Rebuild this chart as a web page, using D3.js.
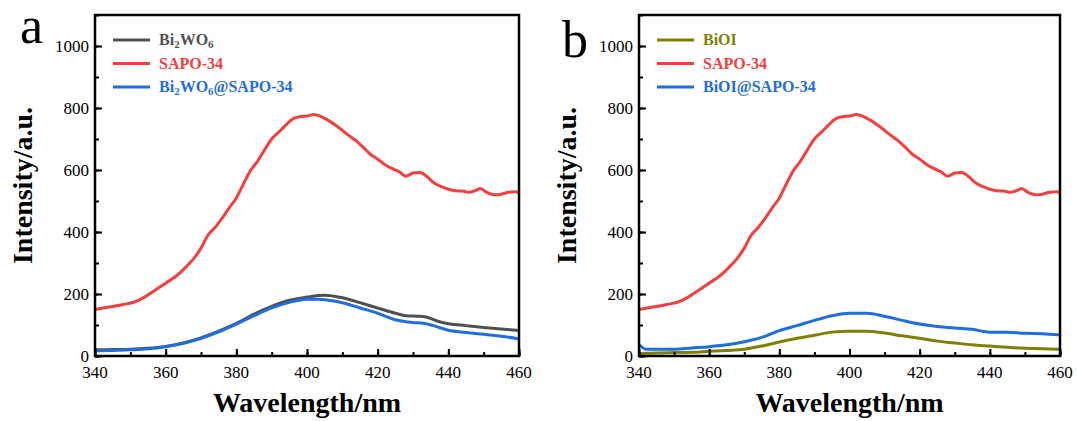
<!DOCTYPE html>
<html>
<head>
<meta charset="utf-8">
<script src="https://cdn.jsdelivr.net/npm/d3@7"></script>
<style>
  body { margin: 0; background: #fff; }
</style>
</head>
<body>
<div id="chart"></div>
<script>
// wavelength (nm) / intensity pairs
var sapoWl  = [340,344,348,352,354,357,360,363,366,368,370,372,374,376,378,380,382,384,386,388,390,392,394,396,398,400,402,404,406,408,410,412,414,416,418,420,422,424,426,428,430,432,434,436,438,440,442,444,446,448,449,451,453,455,457,459,460];
var sapoVal = [150,158,166,178,190,212,235,258,290,315,348,390,415,445,478,510,555,598,628,665,700,722,745,765,772,774,779,772,760,745,728,710,693,672,650,635,618,605,595,580,590,592,578,558,546,538,533,532,528,535,540,527,520,522,528,530,526];

var bwoWl  = [340,345,350,355,360,365,370,375,380,385,390,395,400,405,410,415,420,425,428,432,434,437,440,445,450,455,460];
var bwoVal = [20,21,22,25,31,42,58,80,105,135,160,180,190,196,188,172,155,138,130,128,125,112,104,98,92,87,82];

var bwoSapoWl  = [340,345,350,355,360,365,370,375,380,385,390,395,400,403,406,410,415,420,425,430,433,436,440,445,450,455,460];
var bwoSapoVal = [17,18,20,23,30,41,57,78,103,130,155,173,183,183,180,172,155,138,117,108,106,97,83,76,70,64,55];

var bioiWl  = [340,345,350,355,360,365,370,375,380,385,390,395,400,405,410,415,420,425,430,435,440,445,450,455,460];
var bioiVal = [8,10,11,12,15,18,22,32,45,57,67,77,80,80,74,65,57,48,42,36,32,28,25,23,22];

var bioiSapoWl  = [340,342,345,350,355,360,365,370,375,380,385,390,395,400,405,410,415,420,425,430,435,440,445,450,455,460];
var bioiSapoVal = [37,22,22,22,26,30,36,46,60,82,98,115,130,138,138,128,115,103,95,90,86,77,77,73,72,68];

var xTicks = [340,360,380,400,420,440,460];
var yTicks = [0,200,400,600,800,1000];

var panels = [
  { letter: "a", left: 95, right: 519, letterX: 20, letterY: 43,
    series: [
      { name: "Bi2WO6", label: ["Bi", "2", "WO", "6"], color: "#505050", wl: bwoWl, val: bwoVal },
      { name: "SAPO-34", label: ["SAPO-34"], color: "#f2403f", wl: sapoWl, val: sapoVal },
      { name: "Bi2WO6@SAPO-34", label: ["Bi", "2", "WO", "6", "@SAPO-34"], color: "#1f6ee0", wl: bwoSapoWl, val: bwoSapoVal }
    ] },
  { letter: "b", left: 639, right: 1060, letterX: 562, letterY: 57,
    series: [
      { name: "BiOI", label: ["BiOI"], color: "#7f7f00", wl: bioiWl, val: bioiVal },
      { name: "SAPO-34", label: ["SAPO-34"], color: "#f2403f", wl: sapoWl, val: sapoVal },
      { name: "BiOI@SAPO-34", label: ["BiOI@SAPO-34"], color: "#1f6ee0", wl: bioiSapoWl, val: bioiSapoVal }
    ] }
];

var plotTop = 15, plotBottom = 356;
var serif = '"Liberation Serif", "DejaVu Serif", serif';

var svg = d3.select("#chart").append("svg")
    .attr("width", 1077)
    .attr("height", 421)
    .style("background", "#fff");

panels.forEach(function(p) {
  var x = d3.scaleLinear().domain([340, 460]).range([p.left, p.right]);
  var y = d3.scaleLinear().domain([0, 1100]).range([plotBottom, plotTop]);
  var g = svg.append("g");

  // curves
  p.series.forEach(function(s) {
    g.append("path")
      .datum(s.wl)
      .attr("fill", "none")
      .attr("stroke", s.color)
      .attr("stroke-width", 3)
      .attr("stroke-linejoin", "round")
      .attr("d", d3.line()
        .curve(d3.curveMonotoneX)
        .x(function(d) { return x(d); })
        .y(function(d, i) { return y(s.val[i]); }));
  });

  // minor ticks (inward)
  var xAxisMinor = d3.axisTop(x).ticks(12).tickSize(4).tickFormat("");
  g.append("g").attr("transform", "translate(0," + plotBottom + ")").call(xAxisMinor);
  var yAxisMinor = d3.axisRight(y).tickValues(d3.range(0, 1101, 100)).tickSize(4).tickFormat("");
  g.append("g").attr("transform", "translate(" + p.left + ",0)").call(yAxisMinor);

  // major ticks (inward)
  var xAxis = d3.axisTop(x).tickValues(xTicks).tickSize(7).tickFormat("");
  g.append("g").attr("transform", "translate(0," + plotBottom + ")").call(xAxis);
  var yAxis = d3.axisRight(y).tickValues(yTicks).tickSize(7).tickFormat("");
  g.append("g").attr("transform", "translate(" + p.left + ",0)").call(yAxis);

  g.selectAll(".tick line").attr("stroke", "#000").attr("stroke-width", 2);
  g.selectAll(".domain").remove();

  // tick labels
  g.selectAll(".xlab").data(xTicks).enter().append("text")
    .attr("x", function(d) { return x(d); })
    .attr("y", plotBottom + 22)
    .attr("text-anchor", "middle")
    .style("font-family", serif)
    .style("font-size", "17px")
    .text(function(d) { return d; });
  g.selectAll(".ylab").data(yTicks).enter().append("text")
    .attr("x", p.left - 6)
    .attr("y", function(d) { return y(d) + 6; })
    .attr("text-anchor", "end")
    .style("font-family", serif)
    .style("font-size", "17px")
    .text(function(d) { return d; });

  // frame
  g.append("rect")
    .attr("x", p.left).attr("y", plotTop)
    .attr("width", p.right - p.left).attr("height", plotBottom - plotTop)
    .attr("fill", "none").attr("stroke", "#000").attr("stroke-width", 2.5);

  // axis titles
  g.append("text")
    .attr("x", (p.left + p.right) / 2)
    .attr("y", 412)
    .attr("text-anchor", "middle")
    .style("font-family", serif)
    .style("font-size", "28px").style("font-weight", "bold")
    .text("Wavelength/nm");
  g.append("text")
    .attr("transform", "translate(" + (p.left - 63) + "," + ((plotTop + plotBottom) / 2) + ") rotate(-90)")
    .attr("text-anchor", "middle")
    .style("font-family", serif)
    .style("font-size", "28px").style("font-weight", "bold")
    .text("Intensity/a.u.");

  // panel letter
  g.append("text")
    .attr("x", p.letterX).attr("y", p.letterY)
    .style("font-family", serif)
    .style("font-size", "52px")
    .text(p.letter);

  // legend
  var lx = p.left + 18;
  p.series.forEach(function(s, i) {
    var ly = 40 + i * 23.5;
    g.append("line")
      .attr("x1", lx).attr("x2", lx + 37)
      .attr("y1", ly).attr("y2", ly)
      .attr("stroke", s.color).attr("stroke-width", 3);
    var t = g.append("text")
      .attr("x", lx + 46).attr("y", ly + 5)
      .attr("fill", s.color)
      .style("font-family", serif)
      .style("font-size", "16px").style("font-weight", "bold");
    s.label.forEach(function(part, k) {
      var isSub = /^\d$/.test(part) && k > 0;
      t.append("tspan")
        .attr("baseline-shift", isSub ? "-30%" : null)
        .style("font-size", isSub ? "11px" : null)
        .text(part);
    });
  });
});
</script>
</body>
</html>
